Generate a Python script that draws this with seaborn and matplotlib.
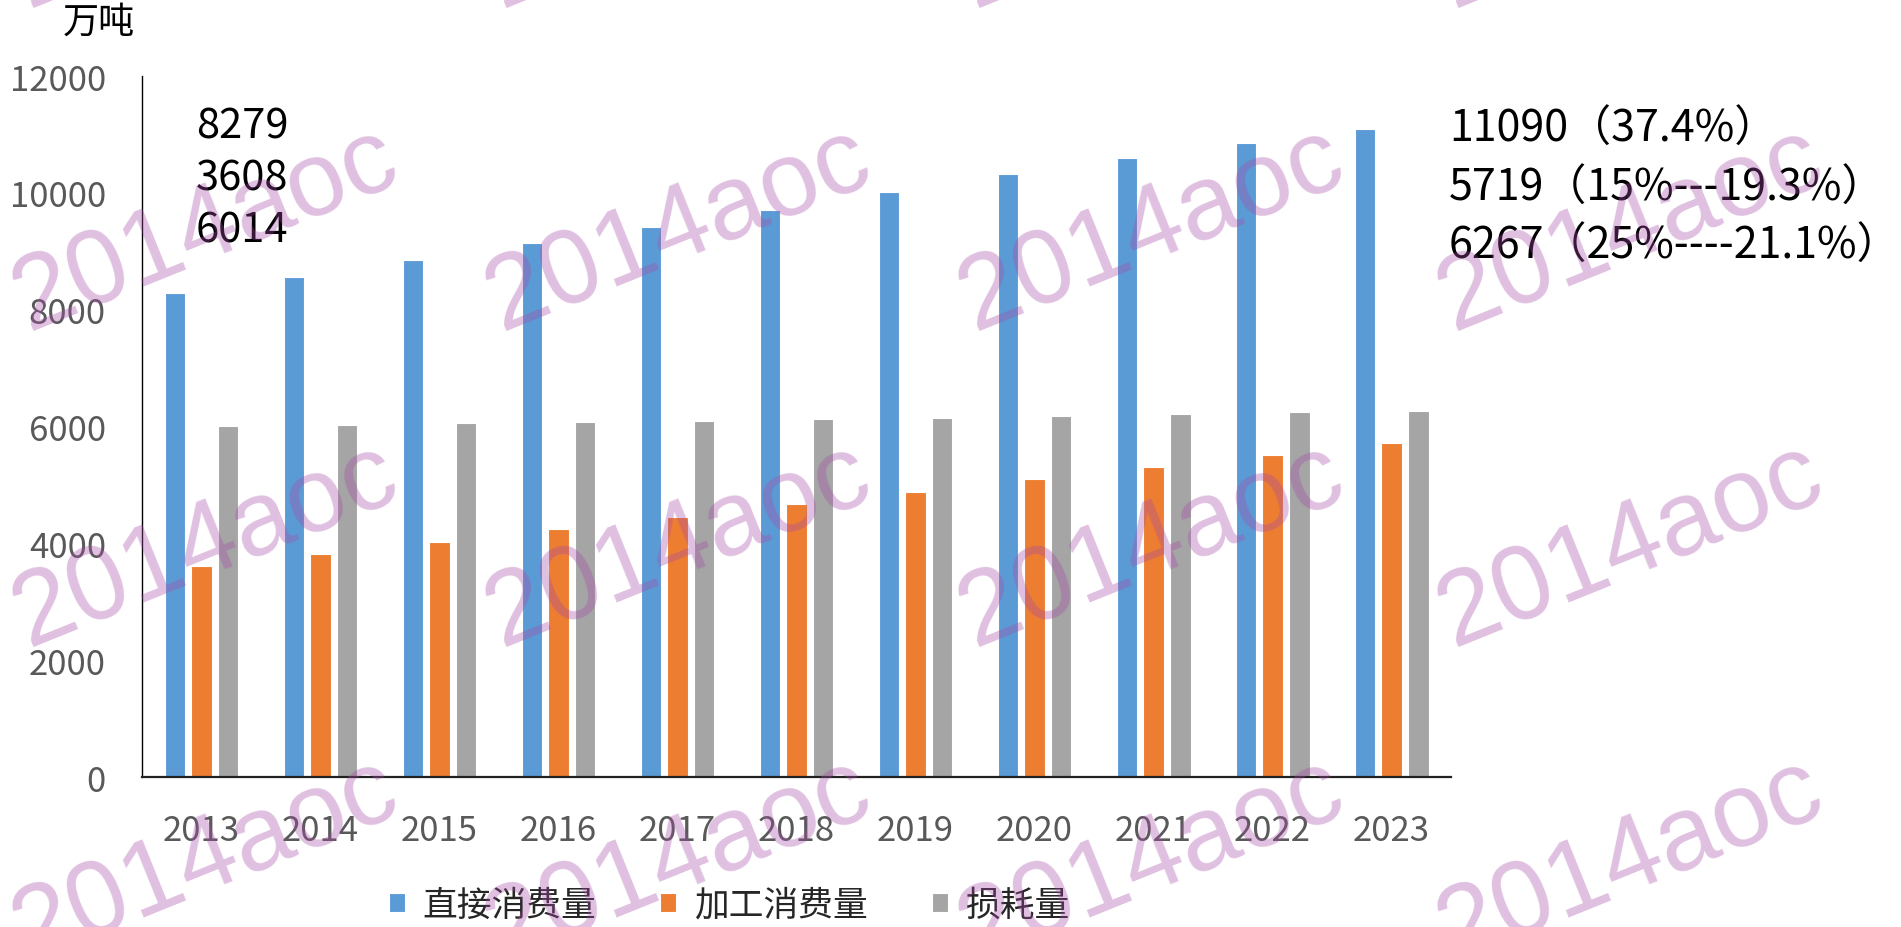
import matplotlib
matplotlib.use("Agg")
import matplotlib.pyplot as plt
import seaborn as sns
import pandas as pd

years = ["2013", "2014", "2015", "2016", "2017", "2018", "2019", "2020", "2021", "2022", "2023"]
series_names = ["直接消费量", "加工消费量", "损耗量"]
direct = [8279, 8552, 8848, 9134, 9424, 9714, 10017, 10329, 10597, 10853, 11090]
processing = [3608, 3820, 4030, 4245, 4455, 4670, 4885, 5095, 5305, 5515, 5719]
loss = [6014, 6032, 6054, 6078, 6100, 6123, 6152, 6180, 6220, 6243, 6267]
colors = ["#5B9BD5", "#ED7D31", "#A5A5A5"]
y_ticks = [0, 2000, 4000, 6000, 8000, 10000, 12000]
unit_label = "万吨"
left_notes = ["8279", "3608", "6014"]
right_notes = ["11090（37.4%）", "5719（15%---19.3%）", "6267（25%----21.1%）"]
watermark = "2014aoc"

rows = []
for name, vals in zip(series_names, [direct, processing, loss]):
    for y, v in zip(years, vals):
        rows.append({"year": y, "series": name, "value": v})
df = pd.DataFrame(rows)

sns.set_theme(style="white")
FONTS = ["Noto Sans CJK SC", "DejaVu Sans"]
plt.rcParams["font.family"] = FONTS

fig = plt.figure(figsize=(19.01, 9.28), dpi=100)
ax = fig.add_axes([0.0747, 0.1616, 0.6886, 0.7554])

sns.barplot(data=df, x="year", y="value", hue="series", hue_order=series_names,
            palette=colors, width=0.673, gap=0.23, saturation=1.0,
            edgecolor="white", linewidth=0.8, ax=ax, legend=True)

ax.set_ylim(0, 12000)
ax.set_xlim(-0.5, len(years) - 0.5)
ax.set_yticks(y_ticks)
ax.set_yticklabels([str(t) for t in y_ticks])
ax.set_xlabel("")
ax.set_ylabel("")
for s in ["top", "right"]:
    ax.spines[s].set_visible(False)
ax.spines["left"].set_color("black")
ax.spines["left"].set_linewidth(1.0)
ax.spines["bottom"].set_color("#222222")
ax.spines["bottom"].set_linewidth(1.6)
ax.tick_params(axis="both", length=0, labelsize=25, labelcolor="#595959")
ax.tick_params(axis="x", pad=26)
ax.tick_params(axis="y", pad=26)
ax.grid(False)

handles, labels = ax.get_legend_handles_labels()
ax.get_legend().remove()
fig.legend(handles, labels, loc="center", bbox_to_anchor=(0.3835, 0.0237),
           ncol=3, frameon=False, handlelength=0.46, handleheight=0.46,
           handletextpad=0.5, columnspacing=1.85,
           prop={"family": ["Noto Sans CJK SC"], "size": 25})

fig.text(63 / 1901, 1 - 23 / 928, unit_label, fontsize=26, color="black",
         family=["Noto Sans CJK SC"], ha="left", va="center")

for i, t in enumerate(left_notes):
    fig.text(196 / 1901, 1 - (127 + 52 * i) / 928, t, fontsize=30, color="black",
             family=FONTS, ha="left", va="center")
for i, t in enumerate(right_notes):
    fig.text(1449 / 1901, 1 - (130 + 58.5 * i) / 928, t, fontsize=31, color="black",
             family=FONTS, ha="left", va="center")

wm_x = [0.108, 0.357, 0.606, 0.858]
wm_y = [1.10, 0.752, 0.412, 0.072]
for wx in wm_x:
    for wy in wm_y:
        fig.text(wx, wy, watermark, fontsize=76, color="#A74BA7", alpha=0.35,
                 rotation=22, ha="center", va="center", family=["Liberation Sans"],
                 zorder=100)

fig.savefig("out.png", dpi=100)
